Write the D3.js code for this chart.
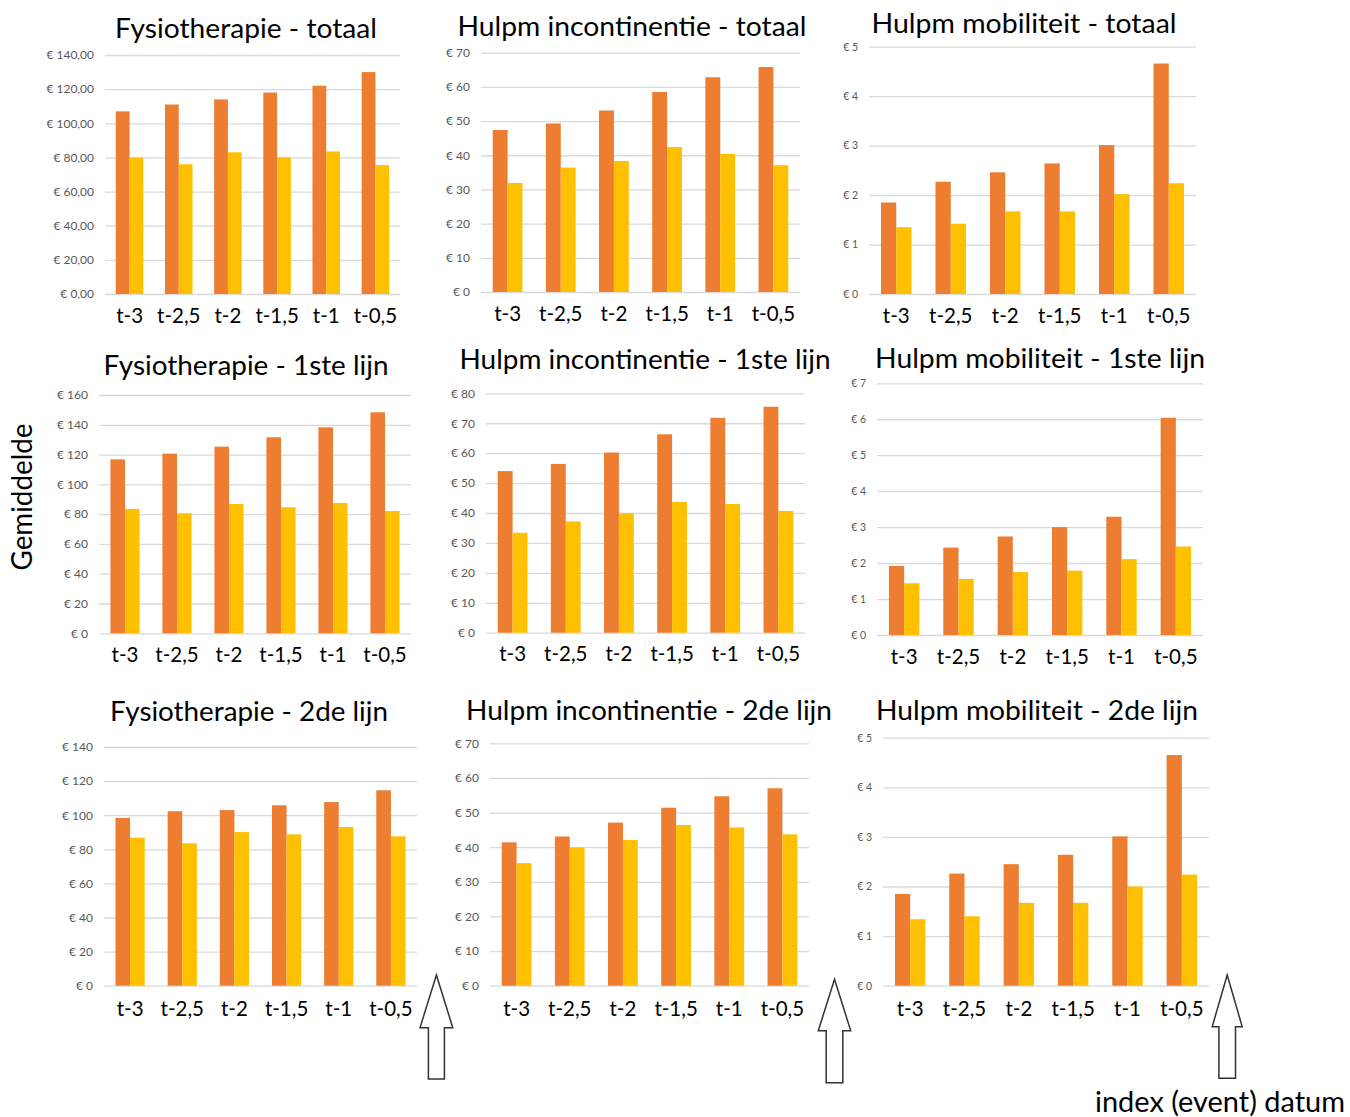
<!DOCTYPE html>
<html>
<head>
<meta charset="utf-8">
<script src="https://cdn.jsdelivr.net/npm/d3@7"></script>
<style>
  body { margin: 0; background: #fff; }
  svg { display: block; }
  text { font-family: Lato, "Open Sans", sans-serif; }
</style>
</head>
<body>
<div id="chart"></div>
<script>
// categories (x axis) - same for every panel
const periods = ["t-3", "t-2,5", "t-2", "t-1,5", "t-1", "t-0,5"];

// titles
const titles = [
    "Fysiotherapie - totaal", "Hulpm incontinentie - totaal", "Hulpm mobiliteit - totaal",
    "Fysiotherapie - 1ste lijn", "Hulpm incontinentie - 1ste lijn", "Hulpm mobiliteit - 1ste lijn",
    "Fysiotherapie - 2de lijn", "Hulpm incontinentie - 2de lijn", "Hulpm mobiliteit - 2de lijn"
];

// values (orange = first series, yellow = second series)
const fysioTotaalOranje = [107, 111, 114, 118, 122, 130];
const fysioTotaalGeel = [80, 76, 83, 80, 83.5, 75.5];
const incoTotaalOranje = [47.4, 49.3, 53.1, 58.5, 62.8, 65.8];
const incoTotaalGeel = [31.9, 36.4, 38.3, 42.4, 40.4, 37.1];
const mobiTotaalOranje = [1.85, 2.27, 2.46, 2.64, 3.01, 4.66];
const mobiTotaalGeel = [1.35, 1.42, 1.67, 1.67, 2.02, 2.24];

const fysio1eOranje = [116.8, 120.6, 125.3, 131.6, 138.3, 148.4];
const fysio1eGeel = [83.5, 80.6, 86.8, 84.6, 87.5, 82.1];
const inco1eOranje = [54.0, 56.4, 60.2, 66.3, 71.8, 75.5];
const inco1eGeel = [33.4, 37.2, 39.9, 43.7, 43.0, 40.7];
const mobi1eOranje = [1.92, 2.43, 2.74, 3.0, 3.29, 6.04];
const mobi1eGeel = [1.44, 1.56, 1.75, 1.79, 2.11, 2.46];

const fysio2eOranje = [98.4, 102.3, 103.0, 105.8, 107.7, 114.6];
const fysio2eGeel = [86.8, 83.5, 90.1, 88.8, 93.1, 87.6];
const inco2eOranje = [41.4, 43.1, 47.1, 51.4, 54.7, 57.0];
const inco2eGeel = [35.4, 39.9, 42.1, 46.4, 45.7, 43.7];
const mobi2eOranje = [1.85, 2.26, 2.45, 2.64, 3.01, 4.65];
const mobi2eGeel = [1.34, 1.40, 1.67, 1.67, 2.0, 2.24];

// y axis max and tick step per panel
const yMax = [140, 70, 5, 160, 80, 7, 140, 70, 5];
const yStep = [20, 10, 1, 20, 10, 1, 20, 10, 1];
const yDecimals = [2, 0, 0, 0, 0, 0, 0, 0, 0];

const seriesOranje = [fysioTotaalOranje, incoTotaalOranje, mobiTotaalOranje,
    fysio1eOranje, inco1eOranje, mobi1eOranje, fysio2eOranje, inco2eOranje, mobi2eOranje];
const seriesGeel = [fysioTotaalGeel, incoTotaalGeel, mobiTotaalGeel,
    fysio1eGeel, inco1eGeel, mobi1eGeel, fysio2eGeel, inco2eGeel, mobi2eGeel];

const yLabel = "Gemiddelde";
const xNote = "index (event) datum";

// LAYOUT (pixels) - plot area + title box for each panel
const layout = [
    { x0: 105, x1: 400, yTop: 55, yZero: 294, tx: 246, ty: 38, tw: 262, tick: 12 },
    { x0: 481, x1: 800, yTop: 52.7, yZero: 292, tx: 632, ty: 36, tw: 349, tick: 12 },
    { x0: 869, x1: 1196, yTop: 46.7, yZero: 294, tx: 1024, ty: 33, tw: 305, tick: 10.5 },
    { x0: 99, x1: 411, yTop: 395, yZero: 633.3, tx: 246, ty: 375, tw: 285, tick: 12 },
    { x0: 486, x1: 805, yTop: 393.3, yZero: 632.7, tx: 645, ty: 369, tw: 371, tick: 12 },
    { x0: 877, x1: 1203, yTop: 383.3, yZero: 635, tx: 1040, ty: 368, tw: 330, tick: 10.5 },
    { x0: 104, x1: 417, yTop: 747, yZero: 985.7, tx: 249, ty: 721, tw: 278, tick: 12 },
    { x0: 490, x1: 809, yTop: 743.3, yZero: 985.7, tx: 649, ty: 720, tw: 366, tick: 12 },
    { x0: 883, x1: 1209, yTop: 737.7, yZero: 985.7, tx: 1037, ty: 720, tw: 322, tick: 10.5 }
];

const arrows = [
    { cx: 436.4, tip: 975, sh: 1027.7, hw: 16.4, sw: 8, bottom: 1079 },
    { cx: 834.5, tip: 979.3, sh: 1030.7, hw: 16.2, sw: 8.3, bottom: 1082.7 },
    { cx: 1227.2, tip: 975, sh: 1026.7, hw: 15, sw: 8.3, bottom: 1078.3 }
];

const colors = ["#ED7D31", "#FFC000"];

const width = 1350, height = 1117;
const svg = d3.select("#chart").append("svg")
    .attr("width", width)
    .attr("height", height);

// squeeze a text to the width it has in the picture (the original font is narrower)
function fitText(sel, targetW) {
    sel.attr("textLength", targetW).attr("lengthAdjust", "spacingAndGlyphs");
}

titles.forEach((title, i) => {
    const L = layout[i];
    const g = svg.append("g").attr("class", "panel");

    const y = d3.scaleLinear().domain([0, yMax[i]]).range([L.yZero, L.yTop]);
    const x = d3.scaleBand().domain(periods).range([L.x0, L.x1])
        .paddingInner(0.44).paddingOuter(0.22);
    const xs = d3.scaleBand().domain([0, 1]).range([0, x.bandwidth()]);

    const fmt = yDecimals[i] > 0
        ? d => "€ " + d3.format("." + yDecimals[i] + "f")(d).replace(".", ",")
        : d => "€ " + d;

    // gridlines + y labels
    const yAxis = g.append("g")
        .attr("transform", `translate(${L.x0},0)`)
        .call(d3.axisLeft(y)
            .tickValues(d3.range(0, yMax[i] + yStep[i] / 2, yStep[i]))
            .tickSize(-(L.x1 - L.x0))
            .tickPadding(11)
            .tickFormat(fmt));
    yAxis.select(".domain").remove();
    yAxis.selectAll("line").attr("stroke", "#D9D9D9").attr("stroke-width", 1.3);
    yAxis.selectAll("text")
        .attr("fill", "#595959")
        .attr("font-size", L.tick)
        .style("font-family", "Lato, 'Open Sans', sans-serif");

    // bars
    const rows = periods.map((p, j) => ({ p, v: [seriesOranje[i][j], seriesGeel[i][j]] }));
    const grp = g.selectAll(".grp").data(rows).enter().append("g")
        .attr("transform", d => `translate(${x(d.p)},0)`);
    grp.selectAll("rect")
        .data(d => d.v.map((v, k) => ({ v, k })))
        .enter().append("rect")
        .attr("x", d => xs(d.k))
        .attr("width", xs.bandwidth())
        .attr("y", d => y(d.v))
        .attr("height", d => y(0) - y(d.v))
        .attr("fill", d => colors[d.k]);

    // x labels
    const xAxis = g.append("g")
        .attr("transform", `translate(0,${L.yZero})`)
        .call(d3.axisBottom(x).tickSize(0).tickPadding(i >= 6 ? 16 : 14));
    xAxis.select(".domain").remove();
    xAxis.selectAll("text")
        .attr("fill", "#000")
        .attr("font-size", 20.5)
        .style("font-family", "Lato, 'Open Sans', sans-serif");

    // title
    const t = g.append("text")
        .attr("x", L.tx)
        .attr("y", L.ty)
        .attr("text-anchor", "middle")
        .attr("font-size", 27)
        .attr("fill", "#000")
        .text(title);
    fitText(t, L.tw);
});

// y label
const yl = svg.append("text")
    .attr("transform", "translate(32,497) rotate(-90)")
    .attr("text-anchor", "middle")
    .attr("font-size", 29)
    .attr("fill", "#000")
    .text(yLabel);
fitText(yl, 147);

// arrows pointing at the index date
svg.selectAll(".arrow").data(arrows).enter().append("path")
    .attr("class", "arrow")
    .attr("d", a => {
        const pts = [
            [a.cx, a.tip], [a.cx + a.hw, a.sh], [a.cx + a.sw, a.sh], [a.cx + a.sw, a.bottom],
            [a.cx - a.sw, a.bottom], [a.cx - a.sw, a.sh], [a.cx - a.hw, a.sh]
        ];
        return d3.line()(pts) + "Z";
    })
    .attr("fill", "#fff")
    .attr("stroke", "#333")
    .attr("stroke-width", 1.5);

const xn = svg.append("text")
    .attr("x", 1095)
    .attr("y", 1112)
    .attr("font-size", 28)
    .attr("fill", "#000")
    .text(xNote);
fitText(xn, 250);
</script>
</body>
</html>
